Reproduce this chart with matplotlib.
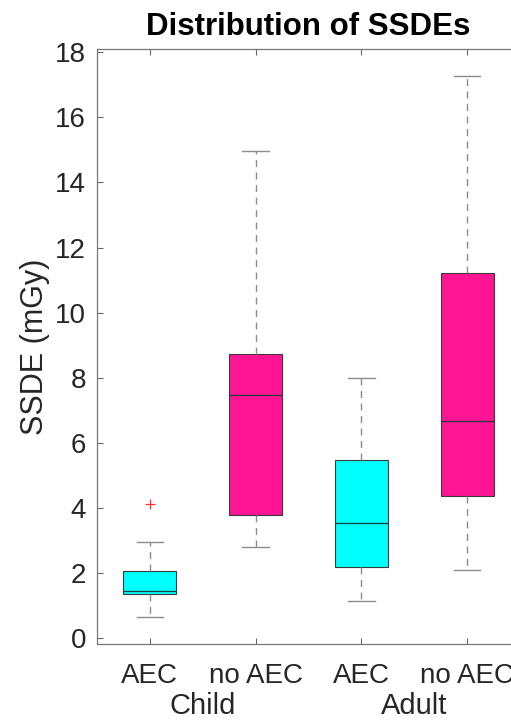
"""SSDE distribution boxplot, MATLAB style."""

import matplotlib
matplotlib.use("Agg")
import matplotlib.pyplot as plt
import matplotlib.transforms as mtransforms

plt.rcParams["font.family"] = ["Liberation Sans", "DejaVu Sans"]

TICK_LABELS = ["AEC", "no AEC", "AEC", "no AEC"]
GROUPS = ["Child", "Adult"]
COLORS = ["#00FFFF", "#FF1493", "#00FFFF", "#FF1493"]

whislo = [0.64, 2.79, 1.13, 2.09]
q1 = [1.35, 3.77, 2.18, 4.36]
med = [1.44, 7.48, 3.53, 6.66]
q3 = [2.06, 8.74, 5.46, 11.23]
whishi = [2.94, 14.97, 8.0, 17.27]
fliers = [[4.11], [], [], []]

fig = plt.figure(figsize=(5.11, 7.21), dpi=100)
ax = fig.add_axes([97 / 511, 1 - 644 / 721, 423 / 511, 595 / 721])

stats = []
for i in range(4):
    stats.append({
        "whislo": whislo[i], "q1": q1[i], "med": med[i],
        "q3": q3[i], "whishi": whishi[i], "fliers": fliers[i],
    })

res = ax.bxp(
    stats,
    positions=[1, 2, 3, 4],
    widths=0.5,
    patch_artist=True,
    showfliers=True,
    boxprops=dict(edgecolor="#3a3a3a", linewidth=0.8),
    medianprops=dict(color="#1f3a3a", linewidth=0.9),
    whiskerprops=dict(color="#8c8c8c", linestyle=(0, (5, 4)), linewidth=1.0),
    capprops=dict(color="#8c8c8c", linewidth=1.0),
    flierprops=dict(marker="+", markeredgecolor="#ff3030", markersize=7,
                    markeredgewidth=0.9, linestyle="none"),
    capwidths=0.25,
)
for patch, c in zip(res["boxes"], COLORS):
    patch.set_facecolor(c)

ax.set_xlim(0.5, 4.5)
ax.set_ylim(-0.18, 18.1)
ax.set_yticks(range(0, 19, 2))
ax.set_xticks([1, 2, 3, 4])
ax.set_xticklabels(TICK_LABELS)
ax.tick_params(direction="in", top=True, right=False, length=4,
               color="#666666", labelsize=20, labelcolor="#262626")
ax.tick_params(axis="y", pad=8)
ax.tick_params(axis="x", pad=14)
ax.spines["right"].set_visible(False)
for s in ax.spines.values():
    s.set_color("#777777")
    s.set_linewidth(0.9)

trans = mtransforms.blended_transform_factory(ax.transData, fig.transFigure)
for xpos, name in zip([1.5, 3.5], GROUPS):
    ax.text(xpos, 1 - 706 / 721, name, transform=trans, ha="center",
            va="center", fontsize=21, color="#262626")

ax.set_ylabel("SSDE (mGy)", fontsize=22, color="#262626")
ax.yaxis.set_label_coords((50 - 97) / 423, 0.5)
ax.set_title("Distribution of SSDEs", fontsize=22.5, fontweight="bold", pad=10)

fig.savefig("out.png", dpi=100)
